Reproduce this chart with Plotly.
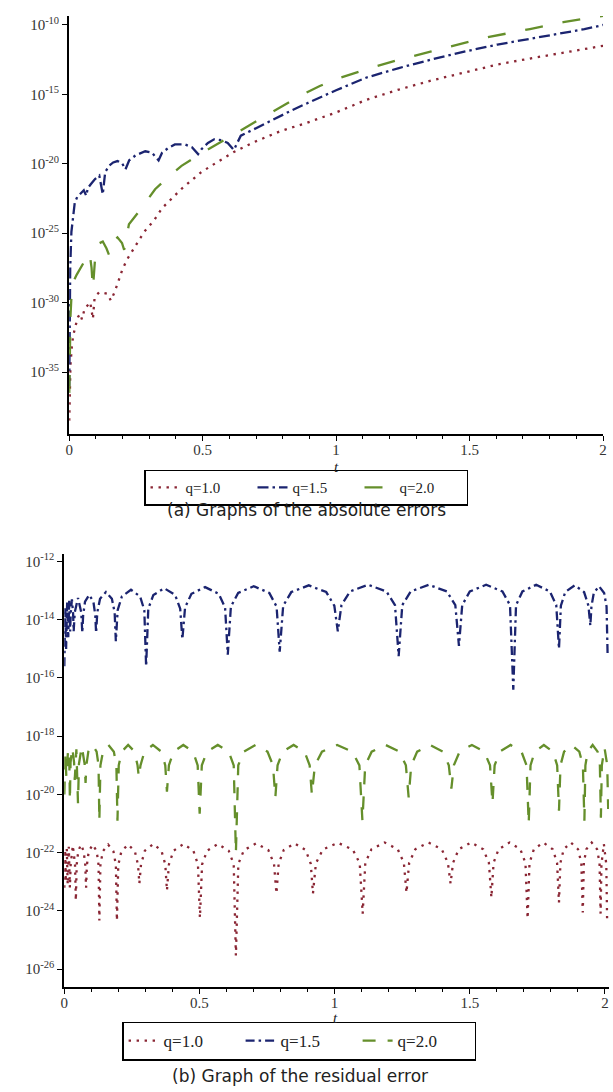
import numpy as np
import plotly.graph_objects as go

# ---------------- (a) absolute errors: t and log10(error) ----------------
abs_t_q10 = [0.0005, 0.002, 0.005, 0.01, 0.015, 0.025, 0.033, 0.041, 0.048, 0.058,
             0.068, 0.079, 0.089, 0.095, 0.105, 0.113, 0.128, 0.144, 0.156, 0.169,
             0.181, 0.2, 0.218, 0.237, 0.255, 0.281, 0.317, 0.348, 0.421, 0.495,
             0.557, 0.617, 0.691, 0.791, 0.89, 1.0, 1.112, 1.235, 1.357, 1.48,
             1.604, 1.73, 1.851, 1.93, 2.0]
abs_log_q10 = [-38.5, -36.5, -34.5, -33.2, -32.4, -31.6, -31.05, -30.8, -31.2, -30.45,
               -30.2, -29.97, -31.17, -29.73, -29.4, -29.25, -29.3, -29.37, -29.85, -29.3,
               -28.66, -27.58, -26.86, -26.26, -25.78, -24.9, -24.1, -23.2, -21.8, -20.6,
               -19.85, -19.15, -18.45, -17.65, -17.05, -16.3, -15.4, -14.65, -14.0, -13.4,
               -12.85, -12.4, -12.0, -11.75, -11.5]

abs_t_q15 = [0.0005, 0.002, 0.004, 0.0085, 0.015, 0.021, 0.03, 0.045, 0.055, 0.064,
             0.07, 0.081, 0.097, 0.113, 0.126, 0.135, 0.15, 0.165, 0.181, 0.198,
             0.211, 0.225, 0.248, 0.285, 0.31, 0.335, 0.348, 0.372, 0.396, 0.433,
             0.46, 0.483, 0.495, 0.52, 0.543, 0.57, 0.594, 0.617, 0.643, 0.691,
             0.765, 0.839, 0.89, 1.0, 1.112, 1.235, 1.357, 1.48, 1.604, 1.73,
             1.851, 1.93, 2.0]
abs_log_q15 = [-36.0, -31.0, -27.5, -24.9, -23.6, -22.8, -22.4, -22.07, -21.9, -22.3,
               -21.75, -21.47, -21.1, -20.85, -22.2, -20.6, -20.13, -19.9, -19.8, -19.95,
               -20.4, -19.75, -19.4, -19.1, -19.2, -19.75, -19.2, -18.85, -18.6, -18.6,
               -18.8, -19.3, -18.96, -18.5, -18.24, -18.3, -18.5, -19.0, -17.97, -17.52,
               -16.8, -16.1, -15.65, -14.7, -13.8, -13.1, -12.49, -11.92, -11.41, -10.97,
               -10.57, -10.3, -10.0]

abs_t_q20 = [0.0005, 0.002, 0.005, 0.008, 0.015, 0.028, 0.04, 0.058, 0.07, 0.078,
             0.084, 0.089, 0.098, 0.107, 0.126, 0.14, 0.15, 0.163, 0.181, 0.198,
             0.206, 0.224, 0.267, 0.322, 0.371, 0.421, 0.495, 0.557, 0.643, 0.742,
             0.865, 0.939, 1.0, 1.112, 1.235, 1.357, 1.407, 1.555, 1.726, 1.851,
             1.93, 2.0]
abs_log_q20 = [-36.5, -33.5, -31.0, -29.8, -28.53, -28.0, -27.57, -27.0, -26.4, -26.6,
               -27.5, -29.0, -26.6, -25.78, -25.6, -26.1, -26.6, -25.6, -25.3, -25.7,
               -26.2, -24.35, -23.3, -21.83, -20.95, -20.15, -19.25, -18.55, -17.6, -16.45,
               -15.1, -14.4, -13.9, -13.2, -12.5, -11.9, -11.65, -10.93, -10.29, -9.8,
               -9.55, -9.35]

# ---------------- (b) residual errors: t and log10(residual) ----------------
res_t_q10 = [0.0005, 0.003, 0.006, 0.0095, 0.013, 0.017, 0.021,
             0.024, 0.032, 0.040, 0.043,
             0.0463, 0.052, 0.062, 0.072, 0.0777, 0.081,
             0.084, 0.0908, 0.1055, 0.1202, 0.127, 0.130,
             0.1339, 0.143, 0.1625, 0.182, 0.1911, 0.195,
             0.200, 0.2116, 0.2365, 0.2614, 0.273, 0.278,
             0.2841, 0.2984, 0.329, 0.3596, 0.3739, 0.380,
             0.3873, 0.4044, 0.441, 0.4776, 0.4947, 0.502,
             0.51, 0.5286, 0.5685, 0.6084, 0.627, 0.635,
             0.644, 0.665, 0.71, 0.755, 0.776, 0.785,
             0.7931, 0.812, 0.8525, 0.893, 0.9119, 0.92,
             0.931, 0.9568, 1.012, 1.0672, 1.093, 1.104,
             1.1137, 1.1364, 1.185, 1.2336, 1.2563, 1.266,
             1.2758, 1.2986, 1.3475, 1.3964, 1.4192, 1.429,
             1.4381, 1.4592, 1.5045, 1.5498, 1.5709, 1.580,
             1.588, 1.6068, 1.647, 1.6872, 1.706, 1.714,
             1.721, 1.7372, 1.772, 1.8068, 1.823, 1.830,
             1.8353, 1.8476, 1.874, 1.9004, 1.9127, 1.918,
             1.922, 1.9312, 1.951, 1.9708, 1.98, 1.984,
             1.987, 1.996, 2.005, 2.008]
res_log_q10 = [-23.2, -21.9, -23.0, -21.85, -23.1, -21.8, -23.2,
               -22.4, -21.75, -22.4, -23.64,
               -22.4, -21.95, -21.72, -21.95, -22.4, -23.2,
               -22.42, -21.95, -21.72, -21.95, -22.42, -24.33,
               -22.42, -21.95, -21.72, -21.95, -22.42, -24.33,
               -22.42, -21.95, -21.72, -21.95, -22.42, -23.06,
               -22.4, -21.93, -21.7, -21.93, -22.4, -23.3,
               -22.4, -21.93, -21.7, -21.93, -22.4, -24.23,
               -22.4, -21.93, -21.7, -21.93, -22.4, -25.53,
               -22.38, -21.91, -21.68, -21.91, -22.38, -23.4,
               -22.38, -21.91, -21.68, -21.91, -22.38, -23.4,
               -22.36, -21.89, -21.66, -21.89, -22.36, -24.09,
               -22.35, -21.88, -21.65, -21.88, -22.35, -23.37,
               -22.35, -21.88, -21.65, -21.88, -22.35, -23.06,
               -22.35, -21.88, -21.65, -21.88, -22.35, -23.54,
               -22.35, -21.88, -21.65, -21.88, -22.35, -24.26,
               -22.35, -21.88, -21.65, -21.88, -22.35, -23.71,
               -22.35, -21.88, -21.65, -21.88, -22.35, -24.05,
               -22.35, -21.88, -21.65, -21.88, -22.35, -24.09,
               -22.4, -21.7, -22.4, -24.3]

res_t_q15 = [0.0005, 0.0037, 0.007, 0.011, 0.015, 0.0185, 0.022,
             0.024, 0.0285, 0.033, 0.035,
             0.039, 0.051, 0.063, 0.067,
             0.070, 0.077, 0.0925, 0.108, 0.115, 0.118,
             0.1224, 0.1326, 0.1545, 0.1764, 0.1866, 0.191,
             0.1977, 0.2134, 0.247, 0.2806, 0.2963, 0.303,
             0.311, 0.3298, 0.37, 0.4102, 0.429, 0.437,
             0.447, 0.4706, 0.521, 0.5714, 0.595, 0.605,
             0.6165, 0.6434, 0.701, 0.7586, 0.7855, 0.797,
             0.8099, 0.84, 0.9045, 0.969, 0.9991, 1.012,
             1.0255, 1.057, 1.1245, 1.192, 1.2235, 1.237,
             1.2504, 1.2816, 1.3485, 1.4154, 1.4466, 1.46,
             1.4721, 1.5002, 1.5605, 1.6208, 1.6489, 1.661,
             1.6711, 1.6948, 1.7455, 1.7962, 1.8199, 1.83,
             1.837, 1.8532, 1.888, 1.9228, 1.939, 1.946,
             1.95, 1.9588, 1.978, 1.997, 2.006, 2.01]
res_log_q15 = [-15.6, -13.6, -15.0, -13.4, -14.6, -13.35, -14.4,
               -13.8, -13.3, -13.8, -14.4,
               -13.75, -13.25, -13.75, -14.45,
               -13.85, -13.38, -13.15, -13.38, -13.85, -14.45,
               -13.75, -13.28, -13.05, -13.28, -13.75, -14.74,
               -13.67, -13.2, -12.97, -13.2, -13.67, -15.6,
               -13.62, -13.15, -12.92, -13.15, -13.62, -14.67,
               -13.58, -13.11, -12.88, -13.11, -13.58, -15.2,
               -13.55, -13.08, -12.85, -13.08, -13.55, -15.1,
               -13.52, -13.05, -12.82, -13.05, -13.52, -14.4,
               -13.5, -13.03, -12.8, -13.03, -13.5, -15.25,
               -13.5, -13.03, -12.8, -13.03, -13.5, -14.9,
               -13.5, -13.03, -12.8, -13.03, -13.5, -16.4,
               -13.5, -13.03, -12.8, -13.03, -13.5, -15.0,
               -13.52, -13.05, -12.82, -13.05, -13.52, -14.2,
               -13.55, -13.08, -12.85, -13.08, -13.55, -15.25]

res_t_q20 = [0.0005, 0.004, 0.008,
             0.010, 0.0145, 0.019, 0.021,
             0.0235, 0.030, 0.0365, 0.039,
             0.045, 0.051,
             0.0545, 0.065, 0.0755, 0.079,
             0.082, 0.0892, 0.1045, 0.1198, 0.127, 0.130,
             0.134, 0.1434, 0.1635, 0.1836, 0.193, 0.197,
             0.2017, 0.2128, 0.2365, 0.2602, 0.2713, 0.276,
             0.2822, 0.2968, 0.328, 0.3592, 0.3738, 0.380,
             0.3873, 0.4042, 0.4405, 0.4768, 0.4937, 0.501,
             0.509, 0.5278, 0.568, 0.6082, 0.627, 0.635,
             0.6438, 0.6642, 0.708, 0.7518, 0.7722, 0.781,
             0.7891, 0.808, 0.8485, 0.889, 0.9079, 0.916,
             0.9272, 0.9534, 1.0095, 1.0656, 1.0918, 1.103,
             1.1133, 1.1372, 1.1885, 1.2398, 1.2637, 1.274,
             1.2835, 1.3056, 1.353, 1.4004, 1.4225, 1.432,
             1.4411, 1.4624, 1.508, 1.5536, 1.5749, 1.584,
             1.592, 1.6108, 1.651, 1.6912, 1.71, 1.718,
             1.7247, 1.7404, 1.774, 1.8076, 1.8233, 1.83,
             1.8356, 1.8488, 1.877, 1.9052, 1.9184, 1.924,
             1.9277, 1.9362, 1.9545, 1.9728, 1.9813, 1.985,
             1.9885, 1.9985, 2.0085, 2.012]
res_log_q20 = [-20.0, -18.6, -19.4,
               -18.9, -18.45, -18.9, -20.2,
               -18.9, -18.4, -18.9, -19.5,
               -18.45, -20.3,
               -18.95, -18.35, -18.95, -19.6,
               -19.0, -18.53, -18.3, -18.53, -19.0, -20.9,
               -19.0, -18.53, -18.3, -18.53, -19.0, -20.9,
               -19.0, -18.53, -18.3, -18.53, -19.0, -19.4,
               -19.0, -18.53, -18.3, -18.53, -19.0, -19.9,
               -19.0, -18.53, -18.3, -18.53, -19.0, -20.66,
               -19.0, -18.53, -18.3, -18.53, -19.0, -22.0,
               -19.0, -18.53, -18.3, -18.53, -19.0, -20.1,
               -19.0, -18.53, -18.3, -18.53, -19.0, -20.0,
               -19.0, -18.53, -18.3, -18.53, -19.0, -20.9,
               -19.0, -18.53, -18.3, -18.53, -19.0, -20.1,
               -19.0, -18.53, -18.3, -18.53, -19.0, -19.8,
               -19.0, -18.53, -18.3, -18.53, -19.0, -20.3,
               -19.0, -18.53, -18.3, -18.53, -19.0, -21.0,
               -19.0, -18.53, -18.3, -18.53, -19.0, -20.56,
               -19.0, -18.53, -18.3, -18.53, -19.0, -20.9,
               -19.0, -18.53, -18.3, -18.53, -19.0, -20.8,
               -19.0, -18.4, -19.0, -20.5]

series_names = ["q=1.0", "q=1.5", "q=2.0"]
abs_tick_exp = [-10, -15, -20, -25, -30, -35]
res_tick_exp = [-12, -14, -16, -18, -20, -22, -24, -26]

COLORS = ["#8a2634", "#1b2470", "#658f2b"]
DASHES = ["2.4px,5.6px", "11px,4px,2.5px,4px", "18px,20px"]
RES_DASHES = ["2.4px,5.6px", "9px,4px,2.5px,4px", "13px,12px"]
SERIF = "Liberation Serif, Times New Roman, serif"
CAPTION_FONT = "DejaVu Sans, sans-serif"

W, H = 613, 1092

fig = go.Figure()

abs_data = [(abs_t_q10, abs_log_q10), (abs_t_q15, abs_log_q15), (abs_t_q20, abs_log_q20)]
res_data = [(res_t_q10, res_log_q10), (res_t_q15, res_log_q15), (res_t_q20, res_log_q20)]

for i, (t, lg) in enumerate(abs_data):
    assert len(t) == len(lg)
    fig.add_trace(go.Scatter(
        x=t, y=np.power(10.0, lg), mode="lines", name=series_names[i],
        line=dict(color=COLORS[i], width=2.3, dash=DASHES[i]),
        xaxis="x", yaxis="y", legend="legend"))

for i, (t, lg) in enumerate(res_data):
    assert len(t) == len(lg)
    fig.add_trace(go.Scatter(
        x=t, y=np.power(10.0, lg), mode="lines", name=series_names[i],
        line=dict(color=COLORS[i], width=2.3, dash=RES_DASHES[i]),
        xaxis="x2", yaxis="y2", legend="legend2"))


def ypaper(px):
    return 1 - px / H


axis_common = dict(showline=True, linecolor="black", linewidth=2, ticks="outside",
                   tickcolor="black", showgrid=False, zeroline=False,
                   tickfont=dict(family=SERIF, size=15, color="#333333"))

xaxis_common = dict(axis_common, tick0=0, dtick=0.5, ticklen=5, ticklabelstandoff=-4,
                    minor=dict(dtick=0.1, ticks="outside", ticklen=3, tickcolor="black",
                               showgrid=False))

legend_common = dict(orientation="h", xanchor="center", yanchor="middle",
                     bordercolor="black", borderwidth=1.5, bgcolor="white",
                     itemwidth=30, tracegroupgap=0)


def label(text, x_px, y_px, family, size):
    return dict(text=text, x=x_px / W, y=ypaper(y_px), xref="paper", yref="paper",
                xanchor="center", yanchor="middle", showarrow=False,
                font=dict(family=family, size=size, color="#222222"))


fig.update_layout(
    width=W, height=H, autosize=False,
    margin=dict(l=0, r=0, t=0, b=0),
    paper_bgcolor="white", plot_bgcolor="white",
    xaxis=dict(xaxis_common, domain=[66 / W, 607 / W], range=[0, 2], anchor="y"),
    yaxis=dict(axis_common, domain=[ypaper(432), ypaper(13)], type="log",
               range=[-39.45, -9.35], anchor="x", ticklen=5,
               tickvals=[10.0 ** e for e in abs_tick_exp],
               ticktext=["10<sup>%d</sup>" % e for e in abs_tick_exp]),
    xaxis2=dict(xaxis_common, domain=[61 / W, 1.0], range=[0, 2.015], anchor="y2"),
    yaxis2=dict(axis_common, domain=[ypaper(987), ypaper(553)], type="log",
                range=[-26.62, -11.76], anchor="x2", ticklen=5,
                tickvals=[10.0 ** e for e in res_tick_exp],
                ticktext=["10<sup>%d</sup>" % e for e in res_tick_exp]),
    legend=dict(legend_common, x=306 / W, y=ypaper(486), entrywidth=62,
                font=dict(family=SERIF, size=15, color="#222222")),
    legend2=dict(legend_common, x=299 / W, y=ypaper(1041), entrywidth=72,
                 font=dict(family=SERIF, size=17, color="#222222")),
    annotations=[
        label("<i>t</i>", 337, 465, SERIF, 15),
        label("<i>t</i>", 336, 1018, SERIF, 15),
        label("(a) Graphs of the absolute errors", 306, 508, CAPTION_FONT, 17),
        label("(b) Graph of the residual error", 300, 1076, CAPTION_FONT, 17),
    ],
)

fig.write_html("out.html")
